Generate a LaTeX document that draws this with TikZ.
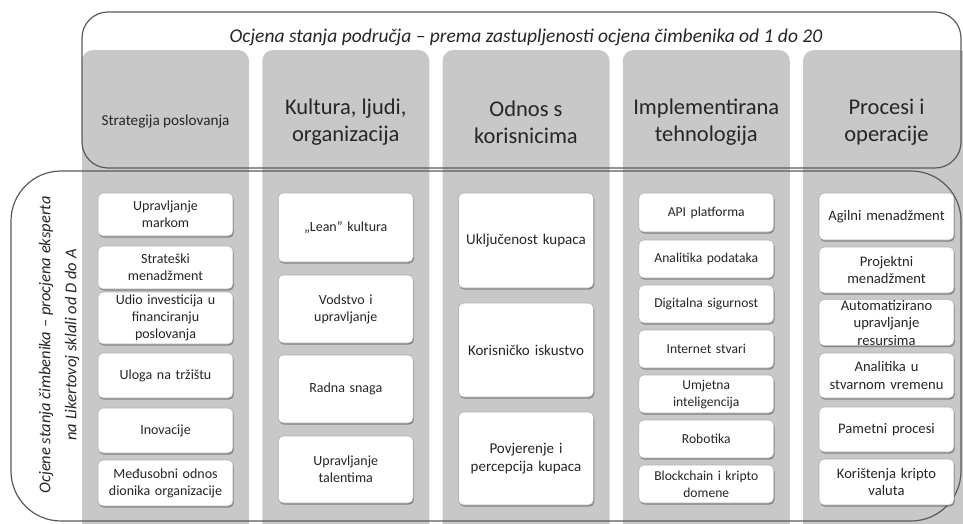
\documentclass[tikz,border=0pt]{standalone}
\usepackage{fontspec}
\setmainfont{Carlito}
\usetikzlibrary{shadows}
\definecolor{colgray}{HTML}{C8C8C8}
\definecolor{linegray}{HTML}{5A5A5A}
\definecolor{txt}{HTML}{262626}
\newcommand\mkbox[5]{\node[wbox,minimum height={(#4-#3)*1pt}] (#1) at (#2,{(#3+#4)/2}) {#5};}
\begin{document}
\begin{tikzpicture}[x=1pt,y=-1pt,
  colbox/.style={fill=colgray,draw=none,rounded corners=11pt},
  outline/.style={draw=linegray,line width=1.2pt},
  wbox/.style={fill=white,draw=black!30,line width=0.6pt,rounded corners=5pt,
    minimum width=135pt,text width=134pt,align=center,inner sep=0.5pt,text=txt,
    drop shadow={shadow xshift=0.8pt,shadow yshift=-1.6pt,fill=black,opacity=0.35}},
  fa/.style={font=\fontsize{14}{17}\selectfont},
  fb/.style={font=\fontsize{15}{18}\selectfont},
  fc/.style={font=\fontsize{13.6}{17}\selectfont},
  fd/.style={font=\fontsize{14.6}{17.5}\selectfont},
  colhead/.style={text=txt,align=center,font=\fontsize{22.5}{27}\selectfont},
  ]
\useasboundingbox (0,0) rectangle (963,523);
\clip (0,0) rectangle (963,523);
% columns
\foreach \i/\x in {1/82,2/262.25,3/442.5,4/622.75,5/803}{
  \path[colbox] (\x,50) rectangle ++(167,485);
}
% outer frames
\path[outline,rounded corners=26pt] (82,12) rectangle (961,168);
\path[outline,rounded corners=50pt] (11,171) rectangle (961,521);
% header
\node[text=txt,font=\fontsize{19.5}{22}\selectfont\itshape] (title) at (526,37)
  {Ocjena stanja područja – prema zastupljenosti ocjena čimbenika od 1 do 20};
\node[rotate=90,text=txt,align=center,font=\fontsize{16.5}{26}\selectfont\itshape] (side) at (59,345)
  {Ocjene stanja čimbenika – procjena eksperta\\na Likertovoj sklali od D do A};
% column headers
\node[text=txt,font=\fontsize{15.2}{18}\selectfont] (h1) at (165.5,122) {Strategija poslovanja};
\node[colhead] (h2) at (345.75,122) {Kultura, ljudi,\\organizacija};
\node[colhead] (h3) at (526,122) {Odnos s\\korisnicima};
\node[colhead] (h4) at (706.25,122) {Implementirana\\tehnologija};
\node[colhead] (h5) at (886.5,122) {Procesi i\\operacije};
% column 1
\begin{scope}[every node/.append style={fa}]
\mkbox{a1}{165.5}{193}{236}{Upravljanje\\markom}
\mkbox{a2}{165.5}{246}{289}{Strateški\\menadžment}
\mkbox{a3}{165.5}{292}{344}{Udio investicija u\\financiranju\\poslovanja}
\mkbox{a4}{165.5}{353}{398}{Uloga na tržištu}
\mkbox{a5}{165.5}{408}{453}{Inovacije}
\mkbox{a6}{165.5}{460}{506}{Međusobni odnos\\dionika organizacije}
% column 2
\mkbox{b1}{345.75}{193}{262}{„Lean” kultura}
\mkbox{b2}{345.75}{275}{343}{Vodstvo i\\upravljanje}
\mkbox{b3}{345.75}{355}{423}{Radna snaga}
\mkbox{b4}{345.75}{436}{503}{Upravljanje\\talentima}
\end{scope}
% column 3
\begin{scope}[every node/.append style={fb}]
\mkbox{c1}{526}{193}{288}{Uključenost kupaca}
\mkbox{c2}{526}{303}{397}{Korisničko iskustvo}
\mkbox{c3}{526}{412}{505}{Povjerenje i\\percepcija kupaca}
\end{scope}
% column 4
\begin{scope}[every node/.append style={fc}]
\mkbox{d1}{706.25}{193}{232}{API platforma}
\mkbox{d2}{706.25}{240}{278}{Analitika podataka}
\mkbox{d3}{706.25}{285}{323}{Digitalna sigurnost}
\mkbox{d4}{706.25}{330}{368}{Internet stvari}
\mkbox{d5}{706.25}{375}{413}{Umjetna\\inteligencija}
\mkbox{d6}{706.25}{420}{458}{Robotika}
\mkbox{d7}{706.25}{465}{503}{Blockchain i kripto\\domene}
\end{scope}
% column 5
\begin{scope}[every node/.append style={fd}]
\mkbox{e1}{886.5}{193}{240}{Agilni menadžment}
\mkbox{e2}{886.5}{247}{293}{Projektni\\menadžment}
\mkbox{e3}{886.5}{300}{345}{Automatizirano\\upravljanje\\resursima}
\mkbox{e4}{886.5}{353}{398}{Analitika u\\stvarnom vremenu}
\mkbox{e5}{886.5}{407}{452}{Pametni procesi}
\mkbox{e6}{886.5}{459}{505}{Korištenja kripto\\valuta}
\end{scope}
\end{tikzpicture}
\end{document}
